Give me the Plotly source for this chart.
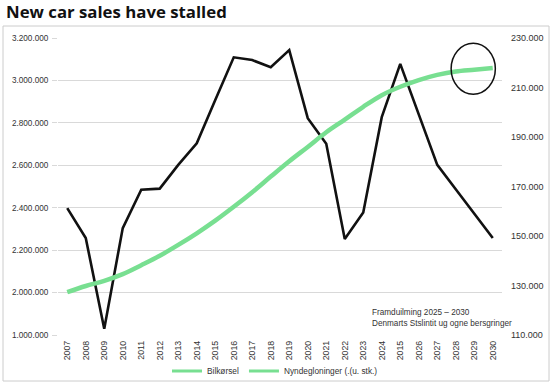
import plotly.graph_objects as go

years = list(range(2007, 2031))
year_labels = ["2007", "2008", "2009", "2010", "2011", "2012", "2013", "2014", "2015",
               "2016", "2017", "2018", "2019", "2020", "2021", "2022", "2023", "2024",
               "2015", "2026", "2027", "2028", "2029", "2030"]

black_values = [2398000, 2257000, 1830000, 2304000, 2485000, 2490000, 2602000, 2704000,
                2908000, 3109000, 3096000, 3062000, 3143000, 2822000, 2701000, 2253000,
                2378000, 2827000, 3078000, 2838000, 2602000, 2487000, 2373000, 2257000]

green_values = [127300, 129800, 131900, 134600, 138200, 142000, 146400, 151100, 156200,
                161800, 167700, 174000, 180200, 186000, 191900, 197000, 202200, 206900,
                210300, 213000, 215100, 216500, 217200, 217900]

left_tickvals = [1800000, 2000000, 2200000, 2400000, 2600000, 2800000, 3000000, 3200000]
left_ticktext = ["1.000.000", "2.000.000", "2.200.000", "2.400.000", "2.600.000",
                 "2.800.000", "3.000.000", "3.200.000"]
right_tickvals = [110000, 130000, 150000, 170000, 190000, 210000, 230000]
right_ticktext = ["110.000", "130.000", "150.000", "170.000", "190.000", "210.000", "230.000"]

legend_names = ["Bilkørsel", "Nyndegloninger (.(u. stk.)"]

GREEN = "#78df91"
FONT = "Liberation Sans, Arial, sans-serif"

x_idx = list(range(len(years)))

fig = go.Figure()
fig.add_trace(go.Scatter(x=x_idx, y=green_values, yaxis="y2", mode="lines",
                         line=dict(color=GREEN, width=4.5, shape="spline"),
                         showlegend=False, hoverinfo="skip"))
fig.add_trace(go.Scatter(x=x_idx, y=black_values, yaxis="y", mode="lines",
                         line=dict(color="#111111", width=2.6),
                         showlegend=False))
for nm in legend_names:
    fig.add_trace(go.Scatter(x=[None], y=[None], mode="lines", name=nm,
                             line=dict(color=GREEN, width=3)))

fig.update_layout(
    width=556, height=387,
    margin=dict(l=58, r=54, t=38, b=52),
    paper_bgcolor="white", plot_bgcolor="white",
    font=dict(family=FONT, size=9, color="#333333"),
    xaxis=dict(range=[-0.5, 23.5], tickmode="array", tickvals=x_idx, ticktext=year_labels,
               tickangle=-90, showgrid=False, zeroline=False, showline=False, automargin=False,
               ticklabelstandoff=3,
               tickfont=dict(size=8.8, color="#333333")),
    yaxis=dict(range=[1800000, 3200000], tickmode="array", tickvals=left_tickvals,
               ticktext=left_ticktext, showgrid=True, gridcolor="#d9d9d9", gridwidth=1,
               zeroline=False, ticks="outside", ticklen=5, tickcolor="#d9d9d9",
               automargin=False, ticklabelstandoff=2,
               tickfont=dict(size=8.2, color="#333333")),
    yaxis2=dict(range=[110000, 230000], tickmode="array", tickvals=right_tickvals,
                ticktext=right_ticktext, overlaying="y", side="right", showgrid=False,
                zeroline=False, ticklabelstandoff=8, automargin=False,
                tickfont=dict(size=9, color="#333333")),
    legend=dict(orientation="h", xref="container", yref="container",
                x=275/556, xanchor="center", y=1-371/387, yanchor="middle",
                font=dict(size=8.3, color="#333333"), itemwidth=30, tracegroupgap=0,
                bgcolor="rgba(0,0,0,0)"),
    showlegend=True,
)

fig.add_shape(type="rect", xref="paper", yref="paper",
              x0=(3-58)/444, x1=(549-58)/444, y0=(335-381)/297, y1=(335-26)/297,
              line=dict(color="#cccccc", width=1), layer="above")
fig.add_shape(type="circle", xref="x", yref="y2", x0=20.75, x1=23.14, y0=207300, y1=227900,
              line=dict(color="#111111", width=1.5))

fig.add_annotation(xref="paper", yref="paper", x=(4-58)/444, y=(335-12)/297,
                   xanchor="left", yanchor="middle", showarrow=False,
                   text="<b>New car sales have stalled</b>",
                   font=dict(family="Open Sans, Liberation Sans, sans-serif", size=16.8,
                             color="#111111"))

fig.add_annotation(xref="paper", yref="paper", x=(370-58)/444, y=(335-318)/297,
                   xanchor="left", yanchor="middle", align="left", showarrow=False,
                   text="Framduilming 2025 – 2030<br>Denmarts Stslintit ug ogne bersgringer",
                   font=dict(size=8.2, color="#333333"))

fig.write_html("out.html", config={"displayModeBar": False},
               post_script="document.body.style.margin='0';")
